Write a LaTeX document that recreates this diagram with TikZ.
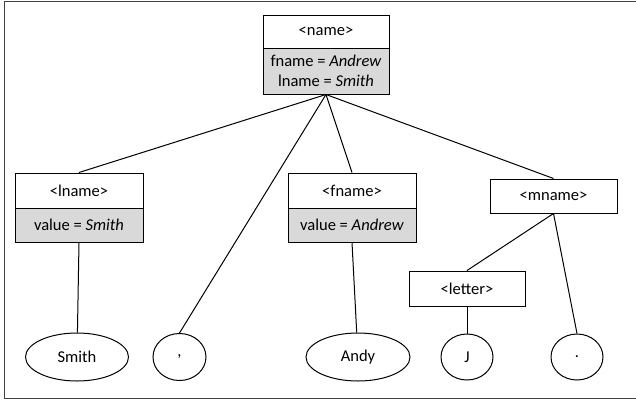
\documentclass[tikz,border=0pt]{standalone}
\usepackage{fontspec}
\setmainfont{Carlito}
\usetikzlibrary{shapes.geometric}
\definecolor{boxgray}{RGB}{217,217,217}
\definecolor{framecol}{RGB}{64,64,64}
\begin{document}
\begin{tikzpicture}[x=0.75pt,y=-0.75pt,
  font=\fontsize{12.4}{15}\selectfont,
  boxbase/.style={draw=black, line width=0.75pt, inner sep=0pt, align=center},
  headbox/.style={boxbase, fill=white},
  valbox/.style={boxbase, fill=boxgray},
  leaf/.style={draw=black, line width=0.75pt, ellipse, inner sep=0pt},
  edge/.style={draw=black, line width=0.75pt}]
\useasboundingbox (0,0) rectangle (636,401);
\draw[framecol, line width=1.2pt] (636,1.5) -- (4.5,1.5) -- (4.5,398.5) -- (636,398.5);

% name
\node[headbox, minimum width=94.5pt, minimum height=24.75pt] (nameT) at (326,31.5) {<name>};
\node[valbox, minimum width=94.5pt, minimum height=34.5pt] (nameB) at (326,71) {fname = \textit{Andrew}\\lname = \textit{Smith}};

% lname
\node[headbox, minimum width=96pt, minimum height=26.25pt] (lnameT) at (79,190.5) {<lname>};
\node[valbox, minimum width=96pt, minimum height=25.5pt] (lnameB) at (79,225) {value = \textit{Smith}};

% fname
\node[headbox, minimum width=96pt, minimum height=26.25pt] (fnameT) at (352,190.5) {<fname>};
\node[valbox, minimum width=96pt, minimum height=25.5pt] (fnameB) at (352,225) {value = \textit{Andrew}};

% mname
\node[headbox, minimum width=95.25pt, minimum height=25.5pt] (mnameT) at (553.5,196) {<mname>};

% letter
\node[headbox, minimum width=87pt, minimum height=26.25pt] (letter) at (467,288.5) {<letter>};

% leaves
\node[leaf, minimum width=77.25pt, minimum height=36pt] (smith) at (77,357) {Smith};
\node[leaf, minimum width=39.75pt, minimum height=35.25pt] (comma) at (179.5,357) {,};
\node[leaf, minimum width=78pt, minimum height=36pt] (andy) at (358,357) {Andy};
\node[leaf, minimum width=39pt, minimum height=34.5pt] (jay) at (467,357) {J};
\node[leaf, minimum width=39pt, minimum height=34.5pt] (dot) at (577,357) {.};

% connectors
\draw[edge] (nameB.south) -- (lnameT.north);
\draw[edge] (nameB.south) -- (comma.north);
\draw[edge] (nameB.south) -- (fnameT.north);
\draw[edge] (nameB.south) -- (mnameT.north);
\draw[edge] (lnameB.south) -- (smith);
\draw[edge] (fnameB.south) -- (andy);
\draw[edge] (mnameT.south) -- (letter.north);
\draw[edge] (mnameT.south) -- (dot.north);
\draw[edge] (letter.south) -- (jay.north);
\end{tikzpicture}
\end{document}
